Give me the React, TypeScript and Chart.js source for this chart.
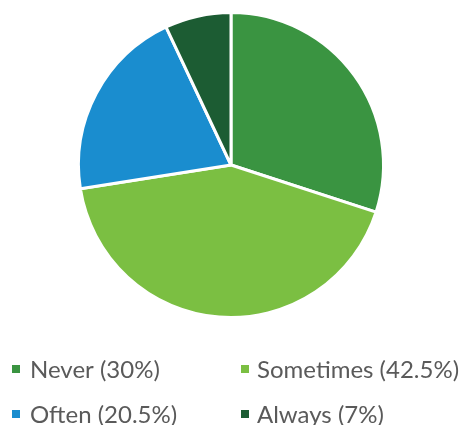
import React, { useEffect, useRef } from "react";
import { Chart, registerables } from "chart.js";

Chart.register(...registerables);

const labels = ["Never", "Sometimes", "Often", "Always"];
const values = [30, 42.5, 20.5, 7];
const legendLabels = ["Never (30%)", "Sometimes (42.5%)", "Often (20.5%)", "Always (7%)"];
const colors = ["#3a9441", "#7bbf42", "#1a8dcf", "#1c5c33"];

const gridLegend = {
  id: "gridLegend",
  afterDraw(chart: any) {
    const ctx = chart.ctx as CanvasRenderingContext2D;
    const cols = [12, 241];
    const textX = [30, 257];
    const rows = [378, 423];
    ctx.save();
    ctx.font = "24px Lato";
    ctx.textBaseline = "alphabetic";
    legendLabels.forEach((t, i) => {
      const c = i % 2;
      const r = Math.floor(i / 2);
      ctx.fillStyle = colors[i];
      ctx.fillRect(cols[c], rows[r] - 13, 8, 8);
      ctx.fillStyle = "#5a5a5a";
      ctx.fillText(t, textX[c], rows[r]);
    });
    ctx.restore();
  },
};

export default function App() {
  const ref = useRef<HTMLCanvasElement | null>(null);
  useEffect(() => {
    if (!ref.current) return;
    const chart = new Chart(ref.current, {
      type: "pie",
      data: {
        labels,
        datasets: [
          {
            data: values,
            backgroundColor: colors,
            borderColor: "#ffffff",
            borderWidth: 3,
          },
        ],
      },
      options: {
        animation: false,
        responsive: true,
        maintainAspectRatio: false,
        layout: { padding: { left: 77, right: 80, top: 11, bottom: 106 } },
        plugins: { legend: { display: false }, tooltip: { enabled: false } },
      },
      plugins: [gridLegend],
    });
    return () => chart.destroy();
  }, []);
  return (
    <div style={{ position: "fixed", left: 0, top: 0, width: 465, height: 425, background: "#fff" }}>
      <canvas ref={ref} />
    </div>
  );
}
